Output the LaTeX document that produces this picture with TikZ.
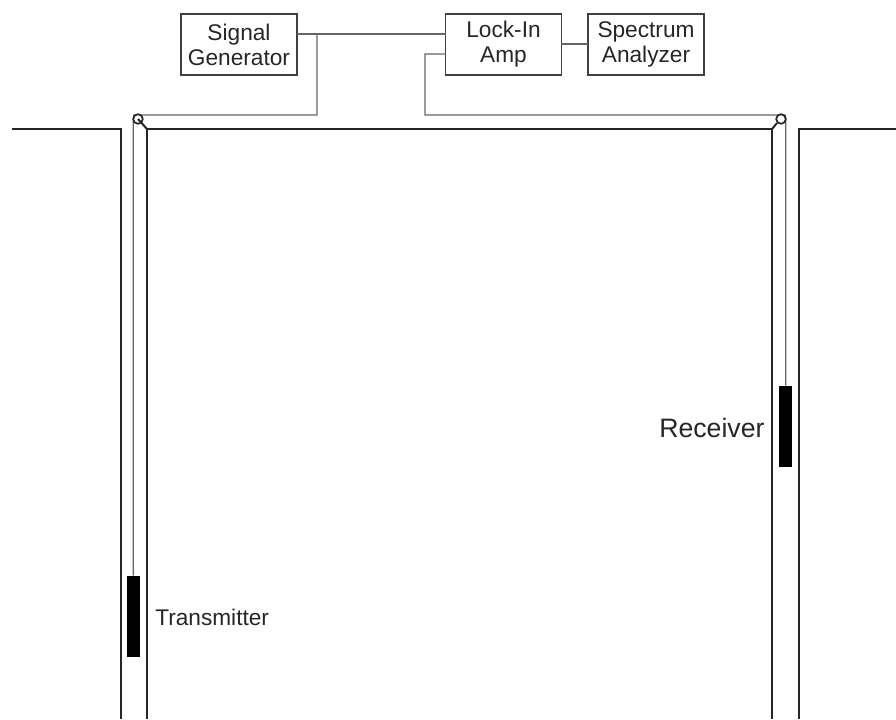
\documentclass[tikz,border=0pt]{standalone}
\usepackage{fontspec}
\setmainfont{Liberation Sans}
\tikzset{
  devbox/.style={draw=black!75,line width=1.0pt,minimum width=87pt,minimum height=45.75pt,inner sep=0pt,align=center,font=\fontsize{17}{18.75}\selectfont,text=black!85},
  wire/.style={draw=black!60,line width=1.0pt},
  ground/.style={draw=black!85,line width=1.5pt},
  pulley/.style={circle,draw=black!85,fill=white,line width=1.3pt,minimum size=7.2pt,inner sep=0pt},
  probe/.style={fill=black,draw=none,minimum width=9.75pt,minimum height=60.75pt,inner sep=0pt},
  lbl/.style={inner sep=0pt,text=black!85}
}
\begin{document}
\begin{tikzpicture}[x=0.75pt,y=-0.75pt]
\useasboundingbox (0,0) rectangle (896,719);
% ground
\draw[ground] (12,129) -- (121,129) -- (121,719);
\draw[ground] (147,719) -- (147,129) -- (772,129) -- (772,719);
\draw[ground] (896,129) -- (799,129) -- (799,719);
% devices
\node[devbox] (sg) at (239,44.5) {Signal\\Generator};
\node[devbox] (li) at (503.5,44.5) {Lock-In\\Amp};
\node[devbox] (sa) at (646,44.5) {Spectrum\\Analyzer};
% probes
\node[probe] (tx) at (133.5,616.5) {};
\node[probe] (rx) at (785.5,426.5) {};
% free coordinates
\coordinate (sgout) at (297,34);
\coordinate (liin) at (446,34);
\coordinate (branch) at (317,34);
\coordinate (lirx) at (446,54);
\coordinate (liout) at (561,44);
\coordinate (sain) at (588,44);
\coordinate (pl) at (138,119);
\coordinate (pr) at (781,119);
\coordinate (gl) at (147,129);
\coordinate (gr) at (772,129);
% wires
\draw[wire] (sgout) -- (liin);
\draw[wire] (branch) -- (317,115) -- (134,115) -- (133.3,119) -- (tx.north -| 133.3,0);
\draw[wire] (lirx) -- (425,54) -- (425,115) -- (785,115) -- (785.7,119) -- (rx.north -| 785.7,0);
\draw[wire] (liout) -- (sain);
% pulleys
\node[pulley] (plc) at (pl) {};
\node[pulley] (prc) at (pr) {};
% pulley arms
\draw[ground] (pl) -- (gl);
\draw[ground] (prc.south west) -- (gr);
% labels
\node[lbl,anchor=west,font=\fontsize{17}{20}\selectfont] (txl) at (155,617.5) {Transmitter};
\node[lbl,anchor=west,font=\fontsize{20}{24}\selectfont] (rxl) at (659,428) {Receiver};
\end{tikzpicture}
\end{document}
